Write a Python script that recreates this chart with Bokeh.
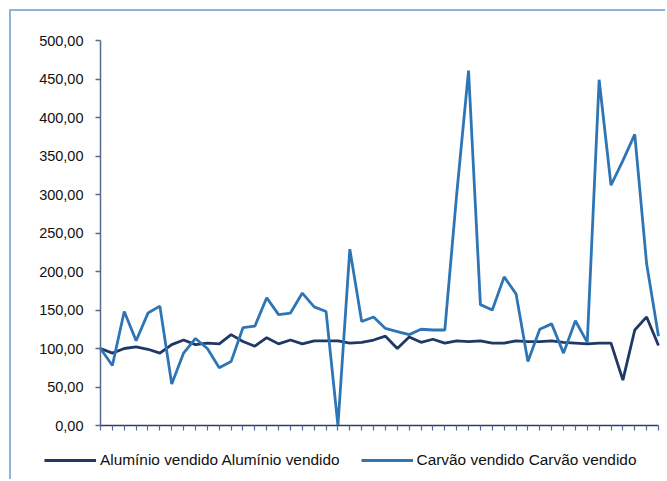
from bokeh.plotting import figure
from bokeh.models import Range1d, FixedTicker, CustomJSTickFormatter, Legend, LegendItem, ColumnDataSource
from bokeh.embed import file_html
from bokeh.resources import INLINE

# ---- data ----
periods = list(range(48))
aluminio = [100, 94, 100, 102, 99, 94, 105, 111, 105, 107, 106, 118, 109,
            103, 114, 106, 111, 106, 110, 110, 110, 107, 108, 111, 116,
            100, 115, 108, 112, 107, 110, 109, 110, 107, 107, 110, 109,
            109, 110, 108, 107, 106, 107, 107, 59, 124, 141, 104]
carvao = [100, 78, 148, 110, 146, 155, 54, 94, 113, 100, 75, 83, 127,
          129, 166, 144, 146, 172, 154, 148, 0, 229, 135, 141, 126,
          122, 118, 125, 124, 124, 300, 461, 157, 150, 193, 171, 83,
          125, 132, 94, 136, 108, 449, 312, 344, 378, 210, 116]
y_ticks = [0, 50, 100, 150, 200, 250, 300, 350, 400, 450, 500]
label_aluminio = "Alumínio vendido Alumínio vendido"
label_carvao = "Carvão vendido Carvão vendido"

src = ColumnDataSource(dict(x=periods, al=aluminio, ca=carvao))

n = len(periods) - 1
px_x = 558.0 / n      # pixels per period
px_y = 385.0 / 500.0  # pixels per unit

p = figure(width=656, height=470, output_backend="svg", toolbar_location=None,
           x_range=Range1d(-89.0 / px_x, n + 9.0 / px_x),
           y_range=Range1d(-56.0 / px_y, 500 + 29.0 / px_y),
           min_border=0)
p.styles = {"margin-left": "9px", "margin-top": "9px",
            "border-top": "2px solid #8fb3d9", "border-left": "2px solid #8fb3d9"}
p.outline_line_color = None
p.xgrid.visible = False
p.ygrid.visible = False
p.background_fill_color = "white"
p.border_fill_color = "white"

r_al = p.line("x", "al", source=src, line_color="#1f3864", line_width=2.8)
r_ca = p.line("x", "ca", source=src, line_color="#2e75b6", line_width=2.8)

axis_color = "#55698c"
p.yaxis.fixed_location = 0
p.yaxis.bounds = (0, 500)
p.yaxis.ticker = FixedTicker(ticks=y_ticks)
p.yaxis.formatter = CustomJSTickFormatter(code="return tick.toFixed(2).replace('.', ',');")
p.yaxis.axis_line_color = axis_color
p.yaxis.axis_line_width = 1.5
p.yaxis.major_tick_line_color = axis_color
p.yaxis.major_tick_line_width = 1.5
p.yaxis.major_tick_out = 5
p.yaxis.major_tick_in = 0
p.yaxis.minor_tick_line_color = None
p.yaxis.major_label_text_font = "Liberation Sans"
p.yaxis.major_label_text_font_size = "14.5px"
p.yaxis.major_label_text_color = "#111111"
p.yaxis.major_label_standoff = 12

p.xaxis.fixed_location = 0
p.xaxis.bounds = (0, n)
p.xaxis.ticker = FixedTicker(ticks=periods)
p.xaxis.axis_line_color = "#2b3f6b"
p.xaxis.axis_line_width = 1.5
p.xaxis.major_tick_line_color = axis_color
p.xaxis.major_tick_line_width = 1.2
p.xaxis.major_tick_out = 5
p.xaxis.major_tick_in = 0
p.xaxis.minor_tick_line_color = None
p.xaxis.major_label_text_font_size = "0px"
p.xaxis.major_label_text_color = None
p.xaxis.major_label_standoff = 0

legend = Legend(items=[LegendItem(label=label_aluminio, renderers=[r_al]),
                       LegendItem(label=label_carvao, renderers=[r_ca])],
                orientation="horizontal", location=(33, 11),
                label_text_font="Liberation Sans", label_text_font_size="15.4px",
                label_text_color="#111111", glyph_width=52, label_standoff=4,
                spacing=21, padding=0, margin=0, border_line_color=None,
                background_fill_alpha=0)
p.add_layout(legend, "center")

open("out.html", "w").write(file_html(p, INLINE))
